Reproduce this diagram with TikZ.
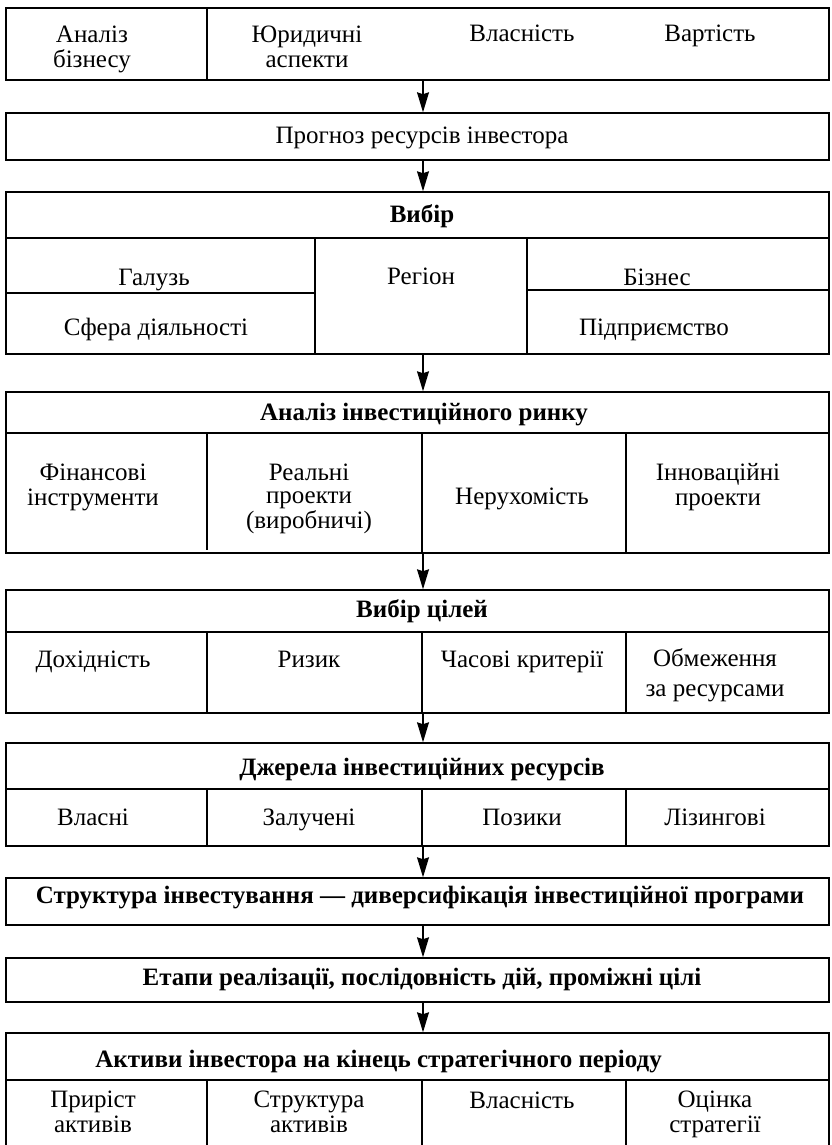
\documentclass[tikz,border=0pt]{standalone}
\usepackage{fontspec}
\setmainfont{Liberation Serif}
\usetikzlibrary{arrows.meta}
\tikzset{
  boxst/.style={draw, line width=0.75pt, rectangle, inner sep=0pt, minimum width=411.5pt},
  divl/.style={line width=0.6pt},
  cell/.style={font=\fontsize{12.5pt}{12.5pt}\selectfont, align=center, inner sep=0pt,
    execute at begin node={\strut}, execute at end node={\strut}},
  head/.style={cell, font=\fontsize{12.5pt}{12.5pt}\selectfont\bfseries},
  arr/.style={-{Stealth[length=10pt,width=6pt,inset=1pt]}, line width=0.6pt}
}
\begin{document}
\begin{tikzpicture}[x=0.5pt,y=-0.5pt]
\useasboundingbox (0,0) rectangle (831,1145);
\clip (0,0) rectangle (831,1145);
\coordinate (ax) at (423,0);
% boxes
\node[boxst, minimum height=36pt]   (b1) at (417.5,44) {};
\node[boxst, minimum height=23.5pt] (b2) at (417.5,136.5) {};
\node[boxst, minimum height=81pt]   (b3) at (417.5,273) {};
\node[boxst, minimum height=80.5pt] (b4) at (417.5,472.5) {};
\node[boxst, minimum height=61.5pt] (b5) at (417.5,651.5) {};
\node[boxst, minimum height=51.5pt] (b6) at (417.5,794.5) {};
\node[boxst, minimum height=23.5pt] (b7) at (417.5,901.5) {};
\node[boxst, minimum height=22pt]   (b8) at (417.5,980) {};
\node[boxst, minimum height=63.5pt] (b9) at (417.5,1096.5) {};
% dividers
\draw[divl] (207,8) -- (207,80);
\draw[divl] (6,238) -- (829,238);
\draw[divl] (315,238) -- (315,354);
\draw[divl] (527,238) -- (527,354);
\draw[divl] (6,293) -- (315,293);
\draw[divl] (527,290) -- (829,290);
\draw[divl] (6,433) -- (829,433);
\draw[divl] (207,433) -- (207,550);
\draw[divl] (422,433) -- (422,553);
\draw[divl] (626,433) -- (626,553);
\draw[divl] (6,632) -- (829,632);
\foreach \xx in {207,422,626} \draw[divl] (\xx,632) -- (\xx,713);
\draw[divl] (6,789) -- (829,789);
\foreach \xx in {207,422,626} \draw[divl] (\xx,789) -- (\xx,846);
\draw[divl] (6,1080) -- (829,1080);
\foreach \xx in {207,422,626} \draw[divl] (\xx,1080) -- (\xx,1160);
% texts box 1
\node[cell] (t11) at (92,50) {Аналіз\\бізнесу};
\node[cell] (t12) at (307,50) {Юридичні\\аспекти};
\node[cell] (t13) at (522,37) {Власність};
\node[cell] (t14) at (710,37) {Вартість};
% box 2
\node[cell] (t21) at (422,138) {Прогноз ресурсів інвестора};
% box 3
\node[head] (t30) at (422,217) {Вибір};
\node[cell] (t31) at (154,280) {Галузь};
\node[cell] (t32) at (421,279) {Регіон};
\node[cell] (t33) at (657,280) {Бізнес};
\node[cell] (t34) at (156,330) {Сфера діяльності};
\node[cell] (t35) at (654,330) {Підприємство};
% box 4
\node[head] (t40) at (424,415) {Аналіз інвестиційного ринку};
\node[cell] (t41) at (93,488) {Фінансові\\інструменти};
\node[cell, font=\fontsize{12.5pt}{11.5pt}\selectfont] (t42) at (309,500) {Реальні\\проекти\\(виробничі)};
\node[cell] (t43) at (522,499) {Нерухомість};
\node[cell] (t44) at (718,488) {Інноваційні\\проекти};
% box 5
\node[head] (t50) at (422,612) {Вибір цілей};
\node[cell] (t51) at (93,662) {Дохідність};
\node[cell] (t52) at (309,662) {Ризик};
\node[cell] (t53) at (522,662) {Часові критерії};
\node[cell, font=\fontsize{12.5pt}{15pt}\selectfont] (t54) at (715,677) {Обмеження\\за ресурсами};
% box 6
\node[head] (t60) at (422,770) {Джерела інвестиційних ресурсів};
\node[cell] (t61) at (93,820) {Власні};
\node[cell] (t62) at (309,820) {Залучені};
\node[cell] (t63) at (522,820) {Позики};
\node[cell] (t64) at (715,820) {Лізингові};
% box 7, 8
\node[head] (t70) at (420,898) {Структура інвестування — диверсифікація інвестиційної програми};
\node[head] (t80) at (422,980) {Етапи реалізації, послідовність дій, проміжні цілі};
% box 9
\node[head, anchor=west] (t90) at (95,1062) {Активи інвестора на кінець стратегічного періоду};
\node[cell] (t91) at (93,1115) {Приріст\\активів};
\node[cell] (t92) at (309,1115) {Структура\\активів};
\node[cell] (t93) at (522,1103) {Власність};
\node[cell] (t94) at (715,1115) {Оцінка\\стратегії};
% arrows
\draw[arr] (b1.south -| ax) -- (b2.north -| ax);
\draw[arr] (b2.south -| ax) -- (b3.north -| ax);
\draw[arr] (b3.south -| ax) -- (b4.north -| ax);
\draw[arr] (b4.south -| ax) -- (b5.north -| ax);
\draw[arr] (b5.south -| ax) -- (b6.north -| ax);
\draw[arr] (b6.south -| ax) -- (b7.north -| ax);
\draw[arr] (b7.south -| ax) -- (b8.north -| ax);
\draw[arr] (b8.south -| ax) -- (b9.north -| ax);
\end{tikzpicture}
\end{document}
